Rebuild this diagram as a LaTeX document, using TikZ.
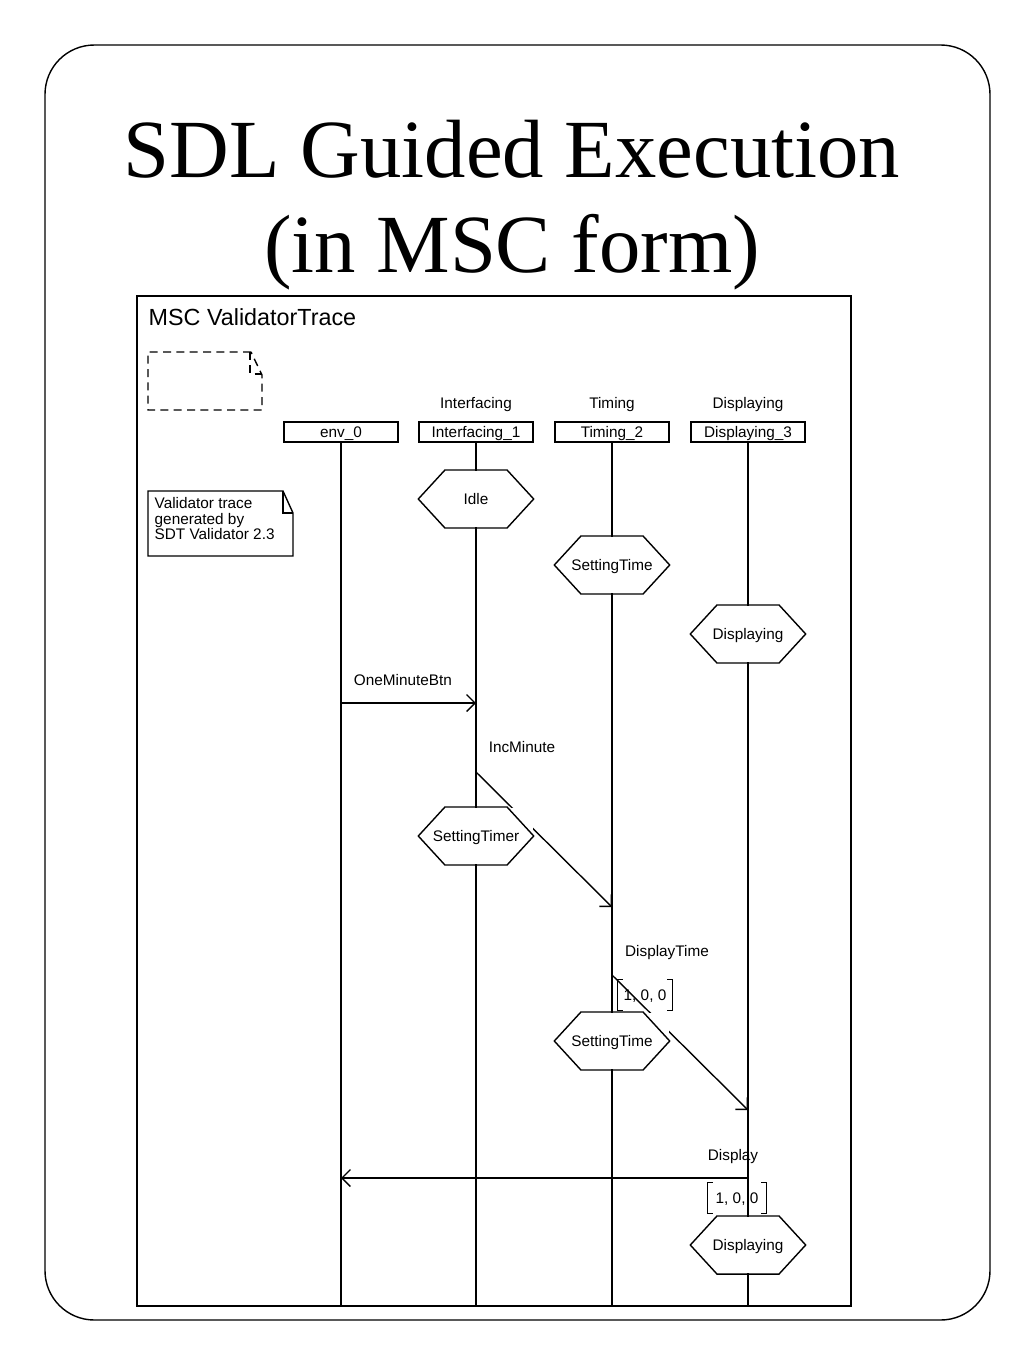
\documentclass[tikz,border=0pt]{standalone}
\usepackage{fontspec}
\setmainfont{Liberation Serif}
\newfontfamily\hv{Liberation Sans}
\usetikzlibrary{arrows.meta}
\tikzset{
  every path/.style={line width=1.05pt},
  sm/.style={font=\hv\fontsize{11.5}{11.6}\selectfont, inner sep=0pt, text height=8.3pt, text depth=0pt},
  head/.style={sm, draw, minimum width=85.5pt, minimum height=15pt},
  cond/.style={sm, fill=white, minimum width=85.5pt, minimum height=42.5pt},
  msg/.style={-{Straight Barb[angle=90:9pt]}},
  ttl/.style={font=\fontsize{62}{62}\selectfont, anchor=base, inner sep=0pt},
}
\begin{document}
\begin{tikzpicture}[x=0.75pt,y=-0.75pt]
\useasboundingbox (0,0) rectangle (1024,1365);
\draw[rounded corners=37pt] (45,45) rectangle (990,1320);
\node[ttl] (t1) at (512,177) {SDL Guided Execution};
\node[ttl] (t2) at (512,272) {(in MSC form)};
% MSC frame
\draw (137,296) rectangle (851,1306);
\coordinate (bot) at (0,1306);
\node[font=\hv\fontsize{17.5}{18}\selectfont, anchor=base west, inner sep=0pt] (mscname) at (148,325) {MSC ValidatorTrace};
% dashed note
\draw[dash pattern=on 6pt off 4pt] (251,352) -- (148,352) -- (148,410) -- (262,410) -- (262,375) -- cycle;
\draw[dash pattern=on 6pt off 4pt] (250,352) -- (250,374) -- (262,374);
% instance labels and heads
\node[sm] (lI) at (476,403) {Interfacing};
\node[sm] (lT) at (612,403) {Timing};
\node[sm] (lD) at (748,403) {Displaying};
\node[head] (env) at (341,432) {env\_0};
\node[head] (int) at (476,432) {Interfacing\_1};
\node[head] (tim) at (612,432) {Timing\_2};
\node[head] (dis) at (748,432) {Displaying\_3};
% lifelines
\foreach \n in {env,int,tim,dis} \draw (\n.south) -- (\n.south |- bot);
% comment note
\draw (148,491) -- (283,491) -- (293,513) -- (293,556) -- (148,556) -- cycle;
\draw (283,491) -- (283,513) -- (293,513);
\node[font=\hv\fontsize{11.5}{11.6}\selectfont, inner sep=0pt, anchor=north west, align=left] (note) at (154,497) {Validator trace\\generated by\\SDT Validator 2.3};
% message endpoints
\coordinate (m1a) at (env.south |- 0,703);
\coordinate (m1b) at (int.south |- 0,703);
\coordinate (m2a) at (int.south |- 0,772);
\coordinate (m2b) at (tim.south |- 0,907);
\coordinate (m3a) at (tim.south |- 0,975);
\coordinate (m3b) at (dis.south |- 0,1110);
\coordinate (m4a) at (dis.south |- 0,1178);
\coordinate (m4b) at (env.south |- 0,1178);
\draw[msg] (m1a) -- (m1b);
\draw[msg] (m2a) -- (m2b);
\draw[msg] (m3a) -- (m3b);
\draw[msg] (m4a) -- (m4b);
\node[sm] (l1) at (403,680) {OneMinuteBtn};
\node[sm] (l2) at (522,747) {IncMinute};
\node[sm] (l3) at (667,951) {DisplayTime};
\node[sm] (l4) at (733,1155) {Display};
% parameters
\node[sm, minimum width=40.5pt, minimum height=22.5pt] (p1) at (645,995) {1, 0, 0};
\node[sm, minimum width=43pt, minimum height=22.5pt] (p2) at (737,1198) {1, 0, 0};
\foreach \p in {p1,p2} {
  \draw ([xshift=4pt]\p.north west) -- (\p.north west) -- (\p.south west) -- ([xshift=4pt]\p.south west);
  \draw ([xshift=-4pt]\p.north east) -- (\p.north east) -- (\p.south east) -- ([xshift=-4pt]\p.south east);
}
% conditions
\node[cond] (c1) at (int.south |- 0,499) {Idle};
\node[cond] (c2) at (tim.south |- 0,565) {SettingTime};
\node[cond] (c3) at (dis.south |- 0,634) {Displaying};
\node[cond] (c4) at (int.south |- 0,836) {SettingTimer};
\node[cond] (c5) at (tim.south |- 0,1041) {SettingTime};
\node[cond] (c6) at (dis.south |- 0,1245) {Displaying};
\foreach \n in {c1,c2,c3,c4,c5,c6}
  \draw ([xshift=20pt]\n.north west) -- ([xshift=-20pt]\n.north east) -- (\n.east)
     -- ([xshift=-20pt]\n.south east) -- ([xshift=20pt]\n.south west) -- (\n.west) -- cycle;
\end{tikzpicture}
\end{document}
